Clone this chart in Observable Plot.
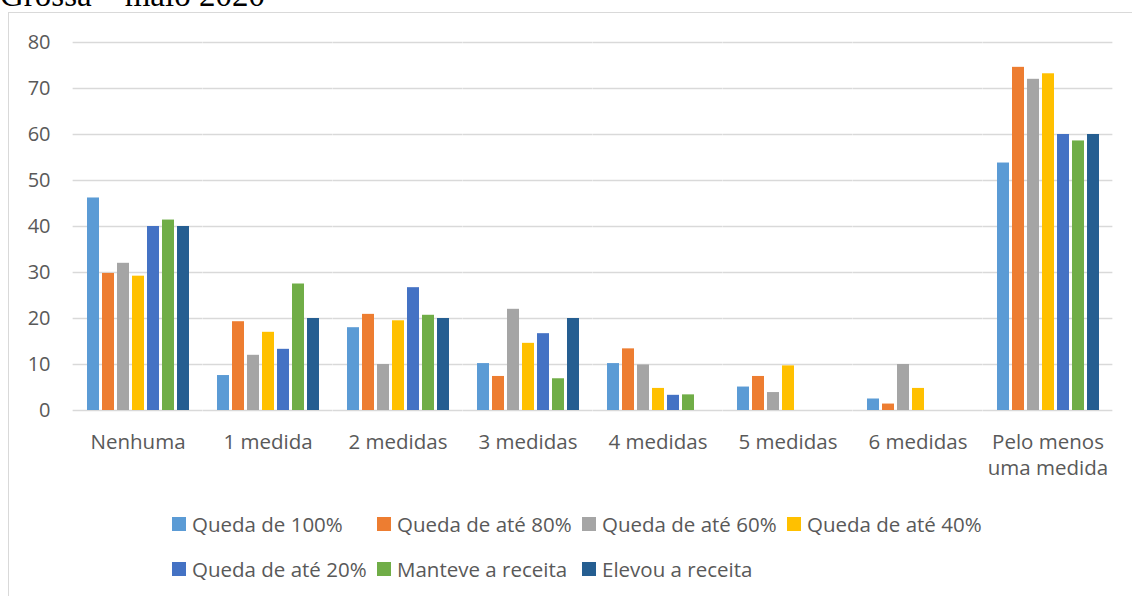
<!DOCTYPE html>
<html><head><meta charset="utf-8">
<script src="https://cdn.jsdelivr.net/npm/d3@7"></script>
<script src="https://cdn.jsdelivr.net/npm/@observablehq/plot@0.6"></script>
<style>
body{margin:0;background:#fff;}
#wrap{position:relative;width:1132px;height:596px;overflow:hidden;font-family:"Open Sans",sans-serif;background:#fff;}
#frame{position:absolute;left:8px;top:12px;width:1200px;height:700px;border:1.5px solid #d9d9d9;box-sizing:border-box;}
#title{position:absolute;left:0;top:0;}
#chart{position:absolute;left:0;top:0;}
#legend{position:absolute;left:172px;top:501px;display:grid;grid-template-columns:repeat(4,205px);grid-auto-rows:45px;}
.item{display:flex;align-items:center;font-size:20.5px;color:#595959;white-space:nowrap;}
.sw{width:14px;height:14px;margin-right:6px;flex:none;}
</style></head><body>
<div id="wrap">
  <div id="frame"></div>
  <svg id="title" width="400" height="20"><text x="0" y="6" font-family="Liberation Serif" font-size="33" fill="#000">Grossa – maio 2020</text></svg>
  <div id="chart"></div>
  <div id="legend"></div>
</div>
<script>
const categories = ["Nenhuma", "1 medida", "2 medidas", "3 medidas", "4 medidas", "5 medidas", "6 medidas", "Pelo menos uma medida"];
const categoryLabels = ["Nenhuma", "1 medida", "2 medidas", "3 medidas", "4 medidas", "5 medidas", "6 medidas", "Pelo menos\numa medida"];
const series = ["Queda de 100%", "Queda de até 80%", "Queda de até 60%", "Queda de até 40%", "Queda de até 20%", "Manteve a receita", "Elevou a receita"];
const colors = ["#5B9BD5", "#ED7D31", "#A5A5A5", "#FFC000", "#4472C4", "#70AD47", "#255E91"];
const queda100 = [46.2, 7.6, 18.0, 10.2, 10.2, 5.1, 2.5, 53.8];
const queda80  = [29.8, 19.3, 20.9, 7.4, 13.4, 7.4, 1.4, 74.6];
const queda60  = [32.0, 12.0, 10.0, 22.0, 9.9, 3.9, 10.0, 72.0];
const queda40  = [29.2, 17.0, 19.5, 14.6, 4.8, 9.7, 4.8, 73.2];
const queda20  = [40.0, 13.3, 26.7, 16.7, 3.3, 0, 0, 60.0];
const manteve  = [41.4, 27.5, 20.7, 6.9, 3.4, 0, 0, 58.6];
const elevou   = [40.0, 20.0, 20.0, 20.0, 0, 0, 0, 60.0];
const yTicks = [0, 10, 20, 30, 40, 50, 60, 70, 80];

const seriesValues = [queda100, queda80, queda60, queda40, queda20, manteve, elevou];
const data = [];
series.forEach((s, si) => categories.forEach((c, ci) => data.push({category: c, series: s, value: seriesValues[si][ci]})));
const labelMap = new Map(categories.map((c, i) => [c, categoryLabels[i]]));

const plotWidth = 1132, mL = 73, mR = 19;
const fxPadInner = 0.175, fxPadOuter = fxPadInner / 2;
const halfGap = (plotWidth - mL - mR) / categories.length * fxPadOuter;

const chart = Plot.plot({
  width: plotWidth, height: 490,
  marginLeft: mL, marginRight: mR, marginTop: 42, marginBottom: 80,
  style: {background: "transparent", fontFamily: "'Open Sans', sans-serif", fontSize: "20px", color: "#595959"},
  fx: {domain: categories, paddingInner: fxPadInner, paddingOuter: fxPadOuter, label: null},
  x: {domain: series, paddingInner: 0.22, paddingOuter: 0.11, axis: null},
  y: {domain: [0, 80], label: null},
  color: {domain: series, range: colors},
  marks: [
    Plot.ruleY(yTicks, {stroke: "#d9d9d9", strokeWidth: 1.5, insetLeft: -halfGap, insetRight: -halfGap}),
    Plot.barY(data, {fx: "category", x: "series", y: "value", fill: "series"}),
    Plot.axisY(yTicks, {tickSize: 0, tickPadding: 34, fontSize: 20, fill: "#595959", label: null}),
    Plot.axisFx({anchor: "bottom", tickSize: 0, tickPadding: 20, fontSize: 20.5, fill: "#595959", lineHeight: 1.28, label: null, tickFormat: d => labelMap.get(d)})
  ]
});
document.getElementById("chart").appendChild(chart);

const legend = document.getElementById("legend");
series.forEach((s, i) => {
  const item = document.createElement("div");
  item.className = "item";
  const sw = document.createElement("span");
  sw.className = "sw";
  sw.style.background = colors[i];
  const t = document.createElement("span");
  t.textContent = s;
  item.appendChild(sw); item.appendChild(t);
  legend.appendChild(item);
});
</script>
</body></html>
